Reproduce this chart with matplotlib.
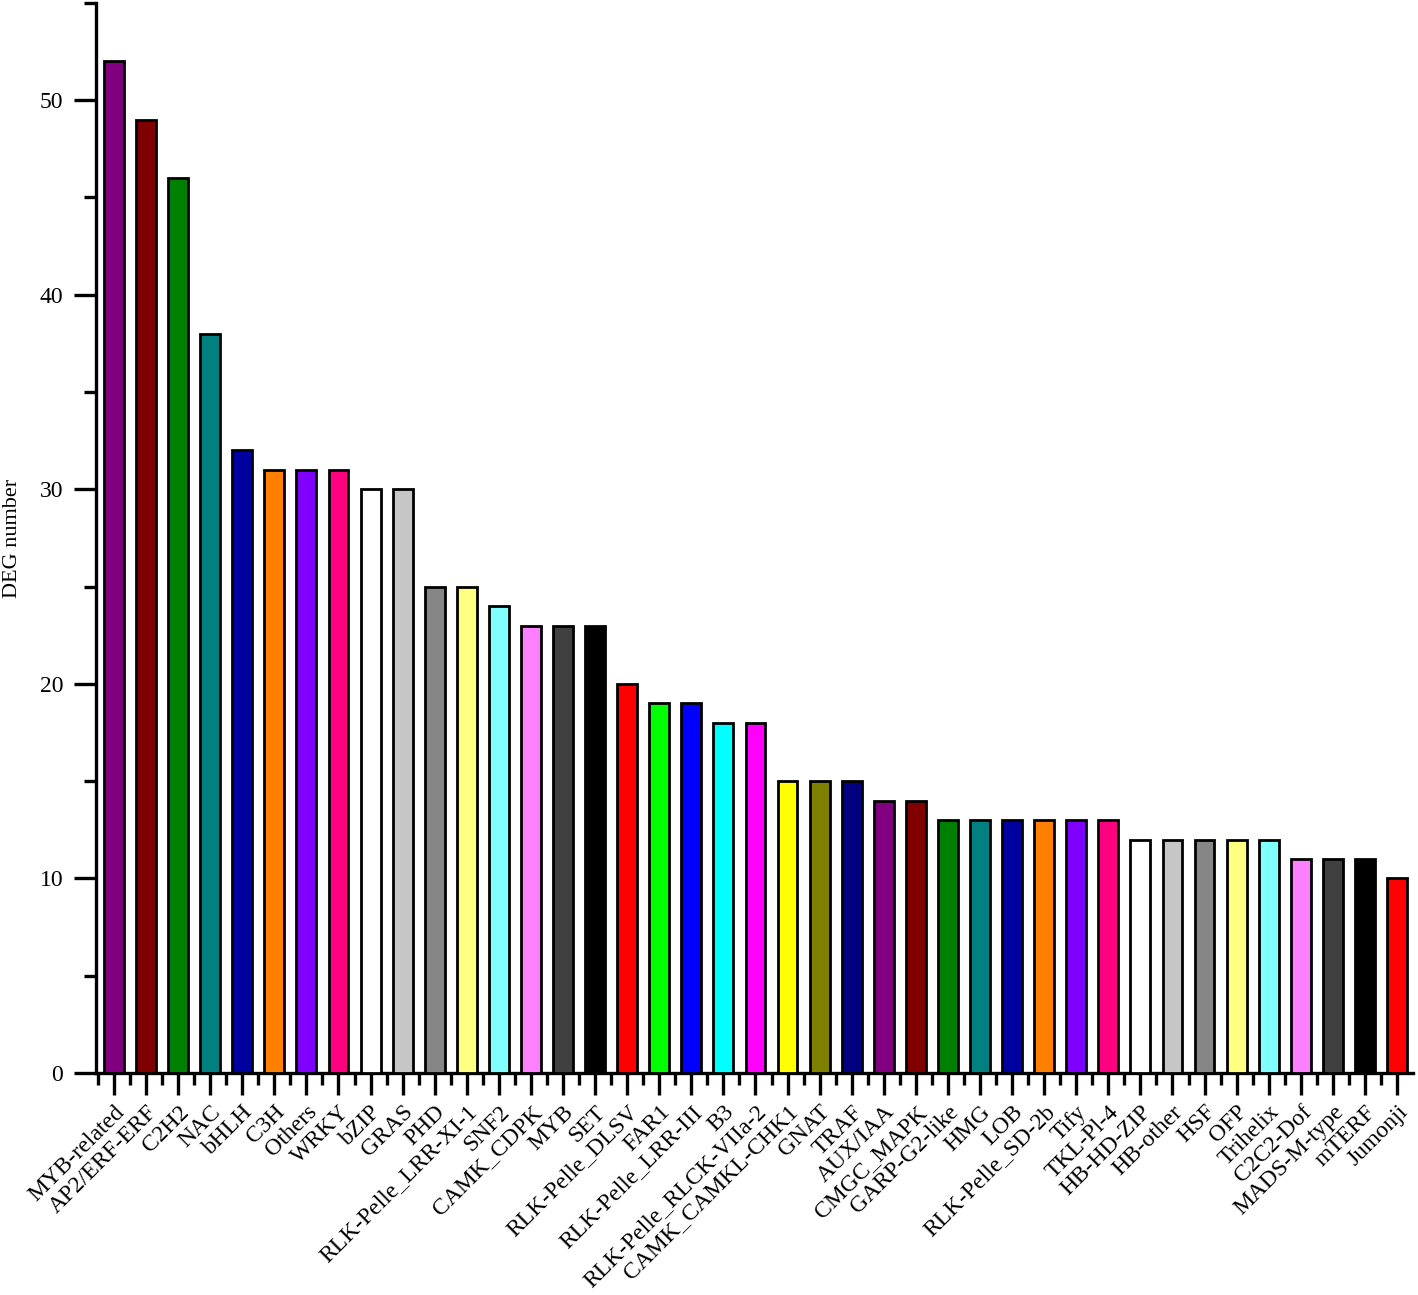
import numpy as np
import matplotlib
matplotlib.use("Agg")
import matplotlib.pyplot as plt
from matplotlib.ticker import MultipleLocator, FixedLocator

plt.rcParams['font.family'] = ['Liberation Serif', 'DejaVu Serif']

# gene families and number of DEGs in each
families = ["MYB-related", "AP2/ERF-ERF", "C2H2", "NAC", "bHLH", "C3H", "Others",
            "WRKY", "bZIP", "GRAS", "PHD", "RLK-Pelle_LRR-XI-1", "SNF2", "CAMK_CDPK",
            "MYB", "SET", "RLK-Pelle_DLSV", "FAR1", "RLK-Pelle_LRR-III", "B3",
            "RLK-Pelle_RLCK-VIIa-2", "CAMK_CAMKL-CHK1", "GNAT", "TRAF", "AUX/IAA",
            "CMGC_MAPK", "GARP-G2-like", "HMG", "LOB", "RLK-Pelle_SD-2b", "Tify",
            "TKL-Pl-4", "HB-HD-ZIP", "HB-other", "HSF", "OFP", "Trihelix", "C2C2-Dof",
            "MADS-M-type", "mTERF", "Jumonji"]
deg_counts = [52, 49, 46, 38, 32, 31, 31, 31, 30, 30, 25, 25, 24, 23, 23, 23, 20,
              19, 19, 18, 18, 15, 15, 15, 14, 14, 13, 13, 13, 13, 13, 13, 12, 12,
              12, 12, 12, 11, 11, 11, 10]

# Origin-like colour cycle, starting at purple
palette = ["#800080", "#800000", "#008000", "#008080", "#0000A0", "#FF8000",
           "#8000FF", "#FF0080", "#FFFFFF", "#C6C6C6", "#868686", "#FFFF80",
           "#80FFFF", "#FF80FF", "#404040", "#000000", "#FF0000", "#00FF00",
           "#0000FF", "#00FFFF", "#FF00FF", "#FFFF00", "#808000", "#000080"]
colors = [palette[i % len(palette)] for i in range(len(families))]

x = np.arange(len(families))

fig = plt.figure(figsize=(14.18, 12.95), dpi=100)
ax = fig.add_axes([0.0677, 0.1714, 0.9288, 0.8264])

ax.bar(x, deg_counts, width=0.62, color=colors, edgecolor="black", linewidth=2.0, zorder=3)

ax.set_xlim(-0.56, len(families) - 0.5)
ax.set_ylim(0, 55)

for side in ["top", "right"]:
    ax.spines[side].set_visible(False)
for side in ["left", "bottom"]:
    ax.spines[side].set_linewidth(2.4)

ax.yaxis.set_major_locator(MultipleLocator(10))
ax.yaxis.set_minor_locator(MultipleLocator(5))
ax.xaxis.set_major_locator(FixedLocator(x))
ax.xaxis.set_minor_locator(FixedLocator(np.arange(len(families)) - 0.5))

ax.tick_params(axis="both", which="major", direction="out", length=15.5, width=2.4, labelsize=17)
ax.tick_params(axis="both", which="minor", direction="out", length=8.5, width=2.4)
ax.tick_params(axis="y", which="major", pad=8)
ax.tick_params(axis="x", which="major", pad=5)

ax.set_xticklabels(families, rotation=45, ha="right", va="top", rotation_mode="anchor")

ax.set_ylabel("DEG number", fontsize=16)
ax.yaxis.set_label_coords(-0.056, 0.5)

fig.savefig("out.png", dpi=100)
